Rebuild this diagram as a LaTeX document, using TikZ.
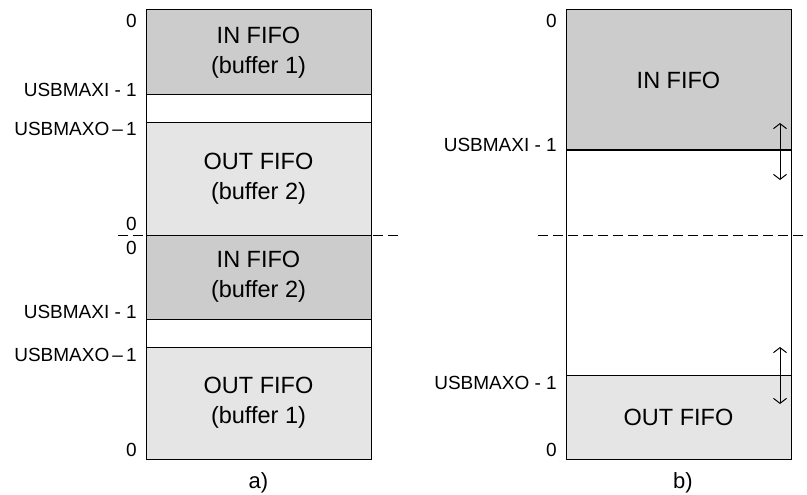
\documentclass[tikz,border=0pt]{standalone}
\usepackage{fontspec}
\setmainfont{Liberation Sans}
\usetikzlibrary{arrows.meta}
\begin{document}
\begin{tikzpicture}[x=1pt,y=-1pt,
  region/.style={draw, line width=1pt, inner sep=0pt, outer sep=0pt,
    minimum width=225pt, align=center, font=\fontsize{23.5}{30}\selectfont},
  inregion/.style={region, fill=gray!40},
  outregion/.style={region, fill=gray!20},
  freeregion/.style={region, fill=white},
  addr/.style={anchor=east, inner sep=0pt, font=\fontsize{19}{22}\selectfont},
  sublabel/.style={inner sep=0pt, font=\fontsize{22}{26}\selectfont},
  sepline/.style={line width=1pt, dash pattern=on 10pt off 5pt},
  sizearrow/.style={line width=1pt, {Straight Barb[length=5pt,width=13pt]}-{Straight Barb[length=5pt,width=13pt]}}
]
\useasboundingbox (0,0) rectangle (807,495);

% ---- a) ----
\node[inregion,  minimum height=85pt]  (in1)  at (258.5,52.5) {IN FIFO\\(buffer 1)};
\node[freeregion,minimum height=28pt]  (gap1) at (258.5,109)  {};
\node[outregion, minimum height=112pt] (out2) at (258.5,179)  {OUT FIFO\\(buffer 2)};
\node[inregion,  minimum height=84pt]  (in2)  at (258.5,277)  {IN FIFO\\(buffer 2)};
\node[freeregion,minimum height=28pt]  (gap2) at (258.5,333)  {};
\node[outregion, minimum height=112pt] (out1) at (258.5,403)  {OUT FIFO\\(buffer 1)};

\node[addr] (a0)  at (137,21)  {0};
\node[addr] (ai1) at (137,90)  {USBMAXI - 1};
\node[addr] (ao1) at (137,129) {USBMAXO\,–\,1};
\node[addr] (a0b) at (137,224) {0};
\node[addr] (a0c) at (137,248) {0};
\node[addr] (ai2) at (137,312) {USBMAXI - 1};
\node[addr] (ao2) at (137,355) {USBMAXO\,–\,1};
\node[addr] (a0d) at (137,450) {0};

\coordinate (dl1) at (118,235);
\coordinate (dl2) at (400,235);
\draw[sepline] (dl1) -- (dl2);

\node[sublabel] (capa) at (258.5,483) {a)};

% ---- b) ----
\node[inregion,  minimum height=140pt] (rin)  at (678.5,80)    {IN FIFO};
\node[freeregion,minimum height=225pt] (rgap) at (678.5,262.5) {};
\node[outregion, minimum height=84pt]  (rout) at (678.5,417)   {OUT FIFO};

\node[addr] (b0)  at (557,21)  {0};
\node[addr] (bi1) at (557,145) {USBMAXI - 1};
\node[addr] (bo1) at (557,383) {USBMAXO - 1};
\node[addr] (b0d) at (557,450) {0};

\coordinate (dr1) at (538,235);
\coordinate (dr2) at (807,235);
\draw[sepline] (dr1) -- (dr2);

\coordinate (g1s) at (780,123);
\coordinate (g1e) at (780,180);
\draw[sizearrow] (g1s) -- (g1e);
\coordinate (g2s) at (780,347);
\coordinate (g2e) at (780,404);
\draw[sizearrow] (g2s) -- (g2e);

\node[sublabel] (capb) at (683,483) {b)};
\end{tikzpicture}
\end{document}
